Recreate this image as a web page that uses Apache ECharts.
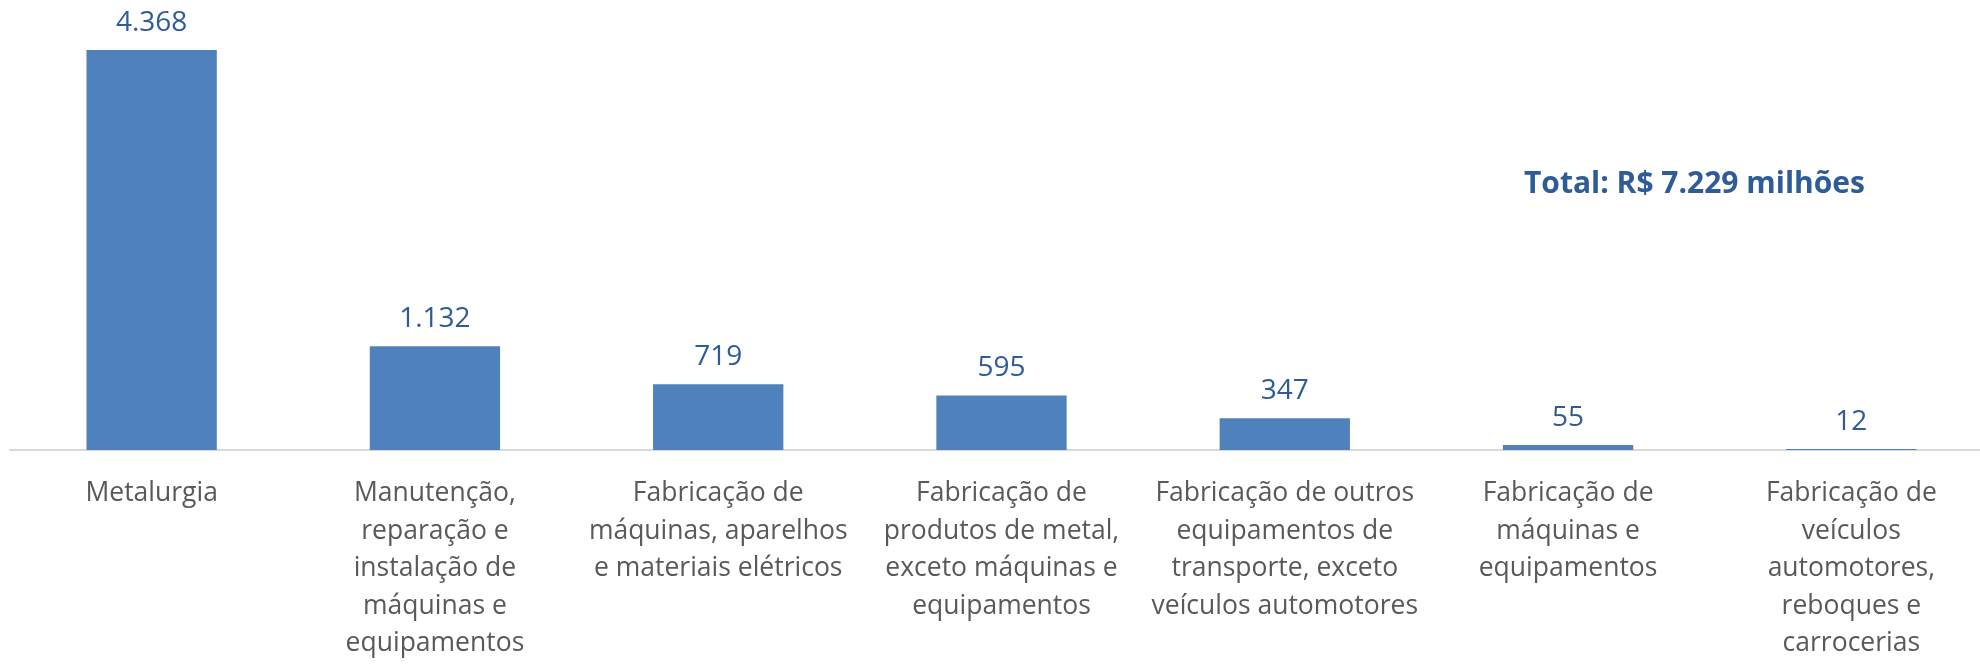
<!DOCTYPE html>
<html>
<head>
<meta charset="utf-8">
<script src="https://cdn.jsdelivr.net/npm/echarts@6/dist/echarts.min.js"></script>
<style>
  html, body { margin: 0; padding: 0; background: #fff; }
  #chart { width: 1980px; height: 664px; }
</style>
</head>
<body>
<div id="chart"></div>
<script>
// setores e valores (R$ milhões)
var categorias = [
    'Metalurgia',
    'Manutenção,\nreparação e\ninstalação de\nmáquinas e\nequipamentos',
    'Fabricação de\nmáquinas, aparelhos\ne materiais elétricos',
    'Fabricação de\nprodutos de metal,\nexceto máquinas e\nequipamentos',
    'Fabricação de outros\nequipamentos de\ntransporte, exceto\nveículos automotores',
    'Fabricação de\nmáquinas e\nequipamentos',
    'Fabricação de\nveículos\nautomotores,\nreboques e\ncarrocerias'
];
var valores = [4368, 1132, 719, 595, 347, 55, 12];
var totalTexto = 'Total: R$ 7.229 milhões';

var fonte = '"Open Sans", "Noto Sans", sans-serif';
var myChart = echarts.init(document.getElementById('chart'));

var option = {
    animation: false,
    grid: {
        left: 10,
        right: -13,
        top: 50,
        bottom: 214,
        outerBoundsMode: 'none'
    },
    graphic: [{
        type: 'text',
        left: 1524,
        top: 169,
        style: {
            text: totalTexto,
            fill: '#2e5c99',
            font: 'bold 30px ' + fonte
        }
    }],
    xAxis: {
        type: 'category',
        data: categorias,
        axisTick: { show: false },
        axisLine: { lineStyle: { color: '#d9d9d9', width: 2 } },
        axisLabel: {
            interval: 0,
            margin: 25,
            color: '#595959',
            fontSize: 26.5,
            fontFamily: fonte,
            lineHeight: 37.5,
            align: 'center',
            verticalAlign: 'top'
        }
    },
    yAxis: {
        type: 'value',
        min: 0,
        max: 4368,
        show: false,
        splitLine: { show: false }
    },
    series: [{
        type: 'bar',
        data: valores,
        barWidth: '46%',
        itemStyle: { color: '#4f81bd' },
        label: {
            show: true,
            position: 'top',
            distance: 13,
            color: '#2e5c99',
            fontSize: 28,
            fontFamily: fonte,
            formatter: function (p) {
                return p.value.toLocaleString('pt-BR');
            }
        }
    }]
};
myChart.setOption(option);
</script>
</body>
</html>
